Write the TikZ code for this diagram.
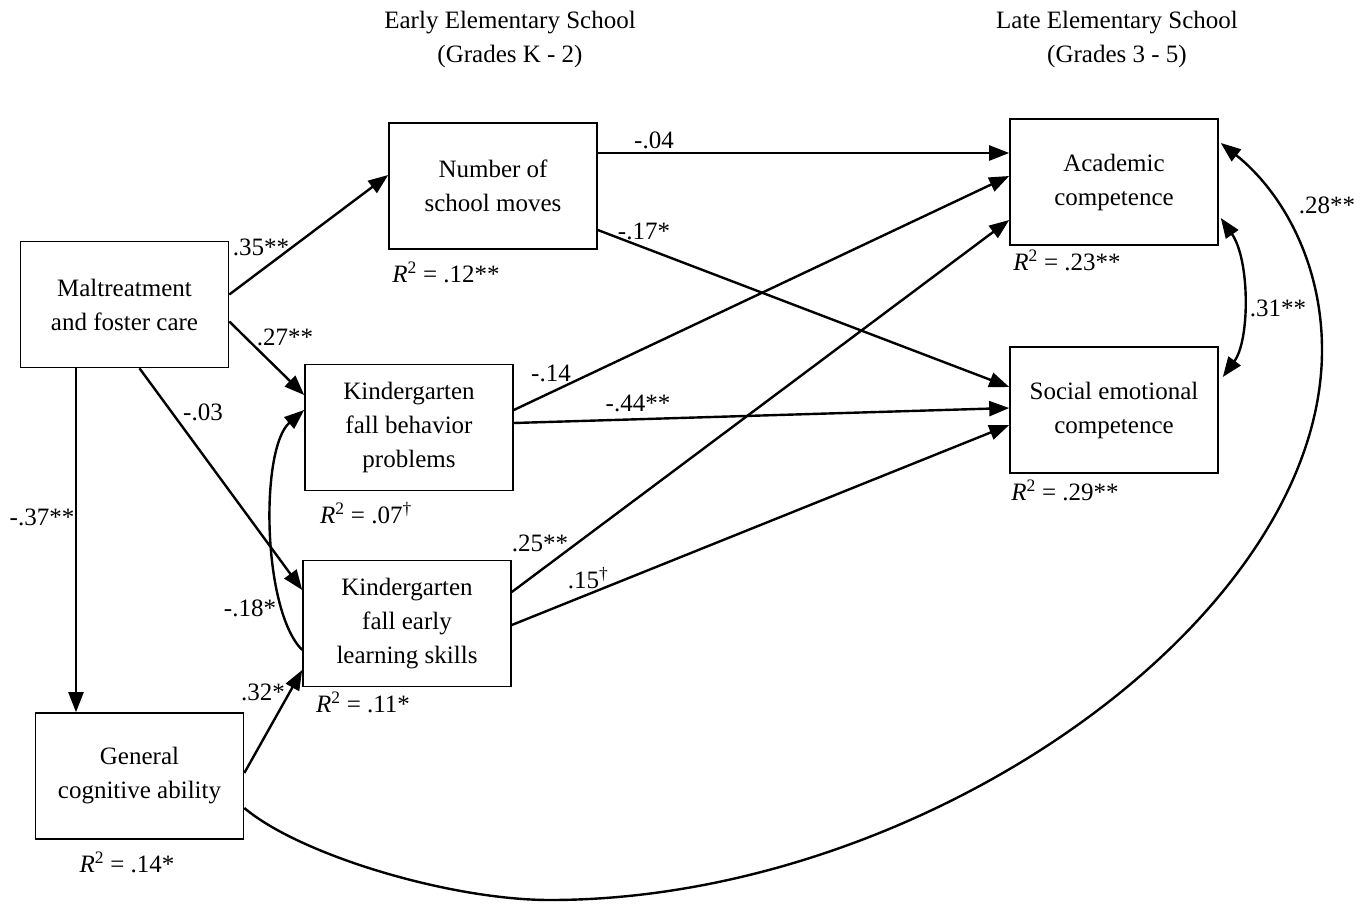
\documentclass[tikz,border=0pt]{standalone}
\usepackage{fontspec}
\setmainfont{Liberation Serif}
\usetikzlibrary{arrows.meta}
\newcommand{\dfont}{\fontsize{25}{34}\selectfont}
\begin{document}
\begin{tikzpicture}[x=1pt,y=-1pt,
  >={Triangle[length=20pt,width=15pt]},
  box/.style={draw,line width=1.6pt,minimum width=208pt,minimum height=126pt,inner sep=0pt,align=center,font=\dfont},
  arr/.style={line width=2.4pt,->},
  lab/.style={font=\dfont,inner sep=0pt},
  head/.style={font=\dfont,align=center,inner sep=0pt}]
\useasboundingbox (0,0) rectangle (1371,903);

% headings
\node[head] (h1) at (510,39) {Early Elementary School\\(Grades K - 2)};
\node[head] (h2) at (1117,39) {Late Elementary School\\(Grades 3 - 5)};

% boxes
\node[box] (mt) at (124.5,304.5) {Maltreatment\\and foster care};
\node[box] (nm) at (493,186) {Number of\\school moves};
\node[box] (kb) at (409,427.5) {Kindergarten\\fall behavior\\problems};
\node[box] (kl) at (407,623.5) {Kindergarten\\fall early\\learning skills};
\node[box] (gc) at (139.5,776) {General\\cognitive ability};
\node[box] (ac) at (1114,182) {Academic\\competence};
\node[box] (se) at (1114,410) {Social emotional\\competence};

% R^2 labels
\node[lab] (r1) at (446,272) {\textit{R}\textsuperscript{2} = .12**};
\node[lab] (r2) at (366,513) {\textit{R}\textsuperscript{2} = .07\textsuperscript{†}};
\node[lab] (r3) at (363,702) {\textit{R}\textsuperscript{2} = .11*};
\node[lab] (r4) at (127,862) {\textit{R}\textsuperscript{2} = .14*};
\node[lab] (r5) at (1067,260) {\textit{R}\textsuperscript{2} = .23**};
\node[lab] (r6) at (1065,490) {\textit{R}\textsuperscript{2} = .29**};

% named coordinates for curves
\coordinate (b1) at (550,900);
\coordinate (b2) at (1322,350);

% connectors
\draw[arr] ([yshift=10pt]mt.east) -- ([yshift=11pt]nm.west);
\draw[arr] ([yshift=-17pt]mt.east) -- ([yshift=32.5pt]kb.west);
\draw[arr] ([xshift=15pt]mt.south) -- ([yshift=33.5pt]kl.west);
\draw[arr] ([xshift=-48.5pt]mt.south) coordinate (a0) -- (a0 |- gc.north);
\draw[arr] ([yshift=3pt]gc.east) -- ([yshift=-46.5pt]kl.west);
\draw[arr] ([yshift=-26.5pt]kl.west) .. controls (262,610) and (260,448) .. ([yshift=17.5pt]kb.west);
\draw[arr] ([yshift=33pt]nm.east) -- ([yshift=29pt]ac.west);
\draw[arr] ([yshift=-44pt]nm.east) -- ([yshift=23pt]se.west);
\draw[arr] ([yshift=17.5pt]kb.east) -- ([yshift=6pt]ac.west);
\draw[arr] ([yshift=4.5pt]kb.east) -- ([yshift=2pt]se.west);
\draw[arr] ([yshift=31.5pt]kl.east) -- ([yshift=-38pt]ac.west);
\draw[arr] ([yshift=-1.5pt]kl.east) -- ([yshift=-15pt]se.west);
\draw[line width=2.4pt,<->] ([xshift=2pt,yshift=-36pt]ac.east) .. controls (1250,260) and (1250,340) .. ([xshift=4pt,yshift=33pt]se.east);
\draw[arr] ([yshift=-32pt]gc.east) .. controls (300,855) and (450,900) .. (b1)
  .. controls (923,900) and (1322,620) .. (b2)
  .. controls (1322,260) and (1280,190) .. ([xshift=2pt,yshift=39pt]ac.east);

% path labels
\node[lab] (l1) at (261,247) {.35**};
\node[lab] (l2) at (285,337) {.27**};
\node[lab] (l3) at (203,412) {-.03};
\node[lab] (l4) at (42,517) {-.37**};
\node[lab] (l5) at (263,692) {.32*};
\node[lab] (l6) at (250,608) {-.18*};
\node[lab] (l7) at (654,140) {-.04};
\node[lab] (l8) at (644,231) {-.17*};
\node[lab] (l9) at (551,373) {-.14};
\node[lab] (l10) at (638,403) {-.44**};
\node[lab] (l11) at (540,543) {.25**};
\node[lab] (l12) at (588,578) {.15\textsuperscript{†}};
\node[lab] (l13) at (1278,308) {.31**};
\node[lab] (l14) at (1327,205) {.28**};
\end{tikzpicture}
\end{document}
